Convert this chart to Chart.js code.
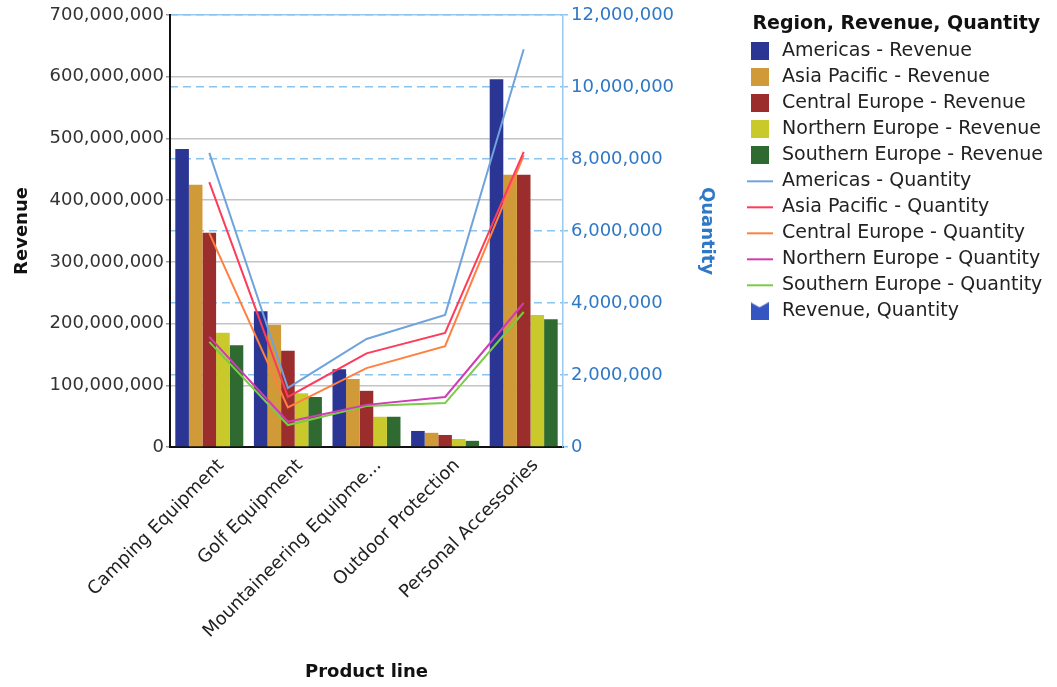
<!DOCTYPE html>
<html>
<head>
<meta charset="utf-8">
<title>Revenue and Quantity by Product line</title>
<script src="https://cdn.jsdelivr.net/npm/chart.js@4/dist/chart.umd.min.js"></script>
<style>
  html, body { margin: 0; padding: 0; background: #fff; }
  #wrap { width: 1057px; height: 687px; }
</style>
</head>
<body>
<div id="wrap"><canvas id="chart" width="1057" height="687"></canvas></div>
<script>
// data
const productLines = ["Camping Equipment", "Golf Equipment", "Mountaineering Equipment", "Outdoor Protection", "Personal Accessories"];
const regions = ["Americas", "Asia Pacific", "Central Europe", "Northern Europe", "Southern Europe"];

const revenueAmericas = [483000000, 220000000, 126000000, 26000000, 596000000];
const revenueAsiaPacific = [425000000, 198000000, 110000000, 23000000, 441000000];
const revenueCentralEurope = [347000000, 156000000, 91000000, 19500000, 441000000];
const revenueNorthernEurope = [185000000, 87000000, 49000000, 13000000, 214000000];
const revenueSouthernEurope = [165000000, 81000000, 49000000, 10000000, 207000000];

const qtyAmericas = [8170000, 1640000, 3000000, 3670000, 11050000];
const qtyAsiaPacific = [7360000, 1390000, 2600000, 3170000, 8200000];
const qtyCentralEurope = [5940000, 1100000, 2190000, 2800000, 8100000];
const qtyNorthernEurope = [3060000, 700000, 1170000, 1390000, 4000000];
const qtySouthernEurope = [2920000, 610000, 1140000, 1220000, 3750000];

const revenueTicks = { min: 0, max: 700000000, step: 100000000 };
const qtyTicks = { min: 0, max: 12000000, step: 2000000 };

const barColors = ["#2b3593", "#d19a38", "#9c2d2d", "#c9c92b", "#2f6a30"];
const lineColors = ["#6fa3dc", "#ff3b5c", "#ff8040", "#d03cb4", "#7acb45"];
const axisBlue = "#2f78c6";

const PAD_RIGHT = 4;
const PLOT_LEFT = 170;
const PLOT_RIGHT = 563;
const X_AXIS_H = 240;

Chart.defaults.font.family = '"DejaVu Sans", Verdana, sans-serif';
Chart.defaults.font.size = 18;
Chart.defaults.color = "#222";

// little canvases used as legend glyphs
function makeIcon(kind, color) {
    const c = document.createElement("canvas");
    const g = c.getContext("2d");
    if (kind === "line") {
        c.width = 26; c.height = 4;
        g.fillStyle = color;
        g.fillRect(0, 1, 26, 2);
    } else if (kind === "combo") {
        c.width = 18; c.height = 18;
        g.fillStyle = color;
        g.beginPath();
        g.moveTo(0, 0); g.lineTo(9, 5); g.lineTo(18, 0);
        g.lineTo(18, 18); g.lineTo(0, 18);
        g.closePath();
        g.fill();
    } else {
        c.width = 18; c.height = 18;
        g.fillStyle = color;
        g.fillRect(0, 0, 18, 18);
    }
    return c;
}

const revenueSeries = [revenueAmericas, revenueAsiaPacific, revenueCentralEurope, revenueNorthernEurope, revenueSouthernEurope];
const qtySeries = [qtyAmericas, qtyAsiaPacific, qtyCentralEurope, qtyNorthernEurope, qtySouthernEurope];

const datasets = [];
regions.forEach((r, i) => {
    datasets.push({
        type: "bar",
        label: r + " - Revenue",
        data: revenueSeries[i],
        backgroundColor: barColors[i],
        borderWidth: 0,
        yAxisID: "y",
        order: 1,
        barPercentage: 1,
        categoryPercentage: 0.865
    });
});
regions.forEach((r, i) => {
    datasets.push({
        type: "line",
        label: r + " - Quantity",
        data: qtySeries[i],
        borderColor: lineColors[i],
        backgroundColor: lineColors[i],
        borderWidth: 2,
        pointRadius: 0,
        tension: 0,
        fill: false,
        yAxisID: "y1",
        order: 0
    });
});

const fmt = v => Number(v).toLocaleString("en-US");

new Chart(document.getElementById("chart"), {
    data: { labels: productLines, datasets: datasets },
    options: {
        responsive: false,
        animation: false,
        layout: { padding: { top: 15, left: 0, right: PAD_RIGHT, bottom: 0 } },
        plugins: {
            tooltip: { enabled: false },
            legend: {
                position: "right",
                align: "start",
                maxWidth: 400,
                title: {
                    display: true,
                    text: "Region, Revenue, Quantity",
                    position: "center",
                    color: "#111",
                    font: { size: 19, weight: "bold" },
                    padding: { top: 0, bottom: -3 }
                },
                labels: {
                    usePointStyle: true,
                    pointStyleWidth: 26,
                    padding: 7,
                    color: "#222",
                    font: { size: 19 },
                    generateLabels: chart => {
                        const items = chart.data.datasets.map((ds, i) => ({
                            text: ds.label,
                            pointStyle: makeIcon(ds.type === "line" ? "line" : "box", ds.type === "line" ? ds.borderColor : ds.backgroundColor),
                            fillStyle: ds.backgroundColor,
                            strokeStyle: ds.backgroundColor,
                            lineWidth: 0,
                            hidden: false,
                            datasetIndex: i,
                            fontColor: "#222"
                        }));
                        items.push({
                            text: "Revenue, Quantity",
                            pointStyle: makeIcon("combo", "#3556c0"),
                            fillStyle: "#3556c0",
                            strokeStyle: "#3556c0",
                            lineWidth: 0,
                            hidden: false,
                            fontColor: "#222"
                        });
                        return items;
                    }
                }
            }
        },
        scales: {
            x: {
                offset: true,
                grid: { display: false },
                border: { display: true, color: "#111", width: 2 },
                ticks: {
                    color: "#222",
                    minRotation: 45,
                    maxRotation: 45,
                    labelOffset: 12,
                    padding: 0,
                    autoSkip: false,
                    callback: function (v) {
                        const s = this.getLabelForValue(v);
                        return s.length > 22 ? s.slice(0, 22) + "..." : s;
                    }
                },
                title: {
                    display: true,
                    text: "Product line",
                    color: "#111",
                    font: { size: 18, weight: "bold" },
                    padding: { top: 0, bottom: 4 }
                },
                afterFit: s => { s.height = X_AXIS_H; }
            },
            y: {
                position: "left",
                min: revenueTicks.min,
                max: revenueTicks.max,
                grid: {
                    color: ctx => ctx.tick && ctx.tick.value === revenueTicks.max ? "#9cc8f0" : "#c4c4c4",
                    lineWidth: 1.5,
                    tickLength: 4,
                    tickColor: "#999"
                },
                border: { color: "#111", width: 2 },
                ticks: {
                    stepSize: revenueTicks.step,
                    color: "#333",
                    padding: 2,
                    callback: v => fmt(v)
                },
                title: {
                    display: true,
                    text: "Revenue",
                    color: "#111",
                    font: { size: 18, weight: "bold" },
                    padding: { top: 12, bottom: 0 }
                },
                afterFit: s => { s.width = PLOT_LEFT; }
            },
            y1: {
                position: "right",
                min: qtyTicks.min,
                max: qtyTicks.max,
                grid: {
                    color: "#8cc4f0",
                    lineWidth: 1.5,
                    tickLength: 5,
                    tickBorderDash: [],
                    tickColor: "#8cc4f0"
                },
                border: { color: "#9cc8f0", width: 1.5, dash: [8, 5] },
                ticks: {
                    stepSize: qtyTicks.step,
                    color: axisBlue,
                    padding: 3,
                    callback: v => fmt(v)
                },
                title: {
                    display: true,
                    text: "Quantity",
                    color: axisBlue,
                    font: { size: 18, weight: "bold" },
                    padding: { top: 22, bottom: 0 }
                },
                afterFit: s => {
                    const lg = s.chart.legend;
                    const lw = lg ? lg.width : 313;
                    s.width = s.chart.width - PAD_RIGHT - lw - PLOT_RIGHT;
                }
            }
        }
    }
});
</script>
</body>
</html>
